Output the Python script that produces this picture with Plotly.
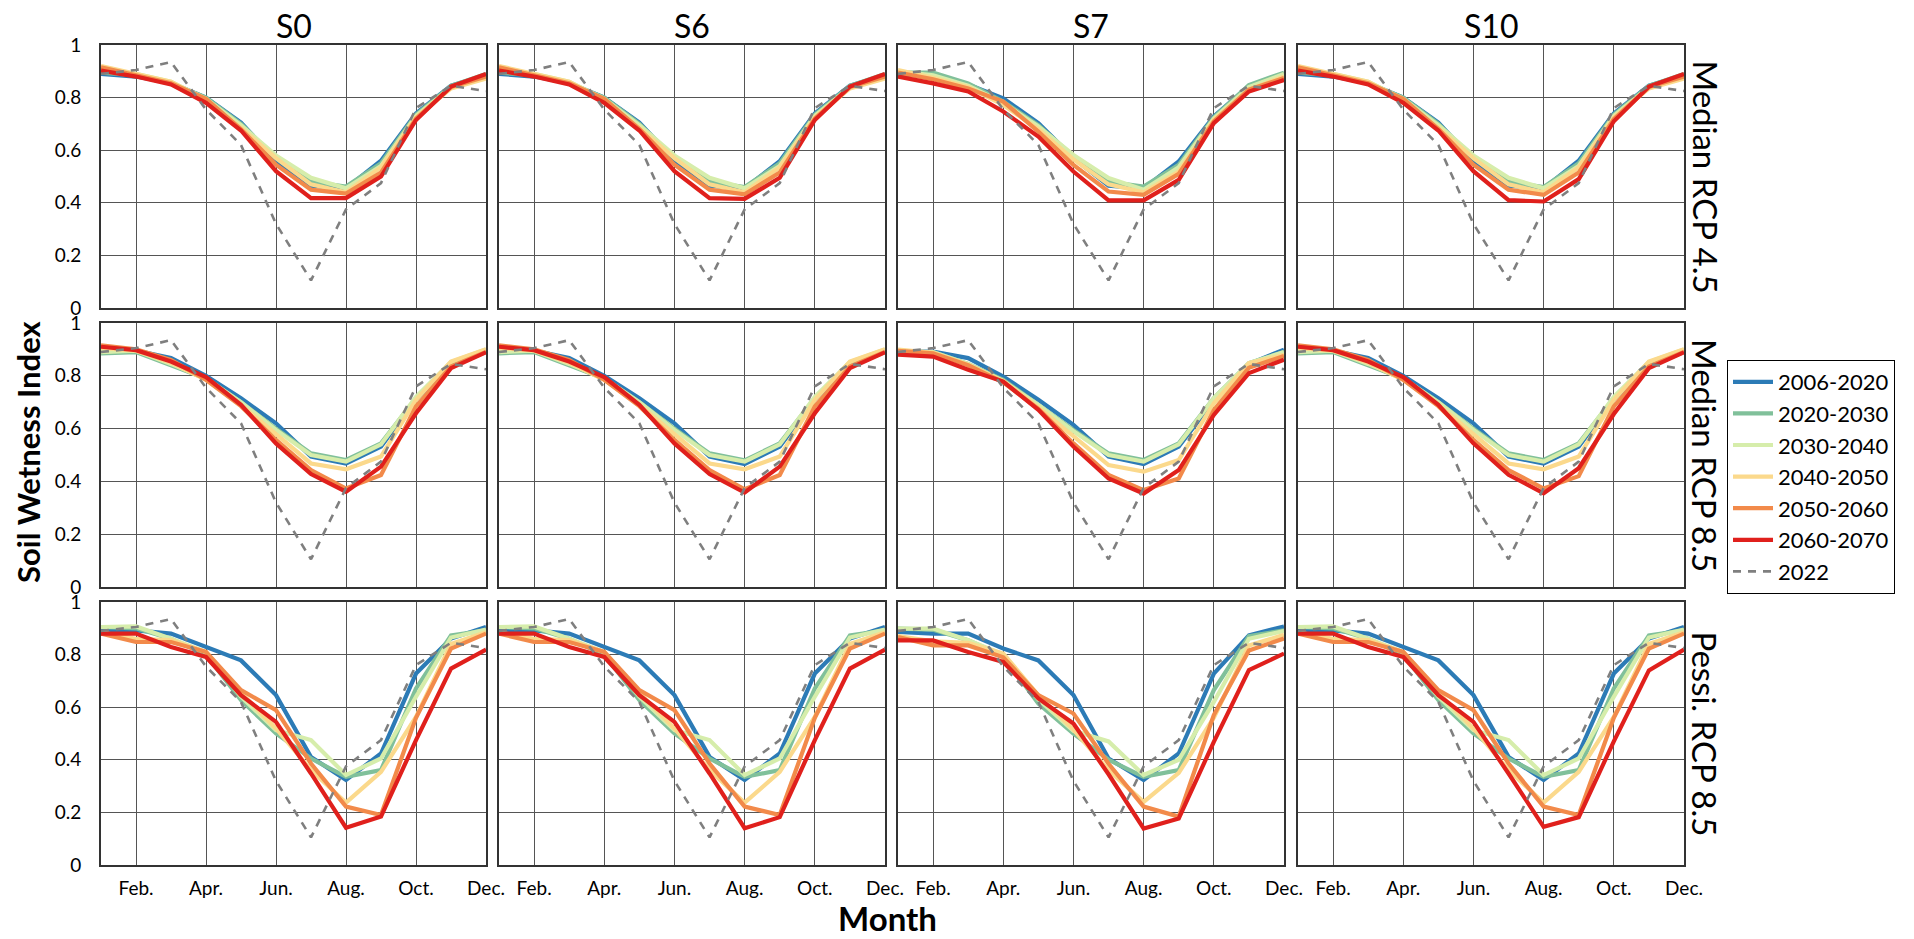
import plotly.graph_objects as go

# ---------------- data ----------------
MONTHS = list(range(1, 13))
MONTH_TICKS = [2, 4, 6, 8, 10, 12]
MONTH_LABELS = ["Feb.", "Apr.", "Jun.", "Aug.", "Oct.", "Dec."]
Y_TICKS = [0, 0.2, 0.4, 0.6, 0.8, 1]
Y_LABELS = ["0", "0.2", "0.4", "0.6", "0.8", "1"]
SITES = ["S0", "S6", "S7", "S10"]
SCENARIOS = ["Median RCP 4.5", "Median RCP 8.5", "Pessi. RCP 8.5"]
PERIODS = ["2006-2020", "2020-2030", "2030-2040", "2040-2050", "2050-2060", "2060-2070"]
COLORS = ["#2c7bb6", "#80c09a", "#d6edab", "#fbd98c", "#f28a4a", "#e0201c"]

OBS_2022 = [0.89, 0.905, 0.935, 0.755, 0.62, 0.32, 0.105, 0.375, 0.475, 0.76, 0.845, 0.825]

# each panel: one list per period (2006-2020 ... 2060-2070), Jan..Dec
S0_MED45 = [
    [0.890, 0.880, 0.855, 0.800, 0.705, 0.560, 0.465, 0.455, 0.560, 0.740, 0.845, 0.885],
    [0.895, 0.885, 0.855, 0.800, 0.700, 0.570, 0.480, 0.462, 0.550, 0.735, 0.845, 0.890],
    [0.905, 0.890, 0.860, 0.795, 0.695, 0.580, 0.495, 0.455, 0.540, 0.730, 0.840, 0.880],
    [0.920, 0.890, 0.860, 0.790, 0.685, 0.570, 0.470, 0.440, 0.535, 0.725, 0.835, 0.872],
    [0.915, 0.885, 0.855, 0.795, 0.680, 0.545, 0.450, 0.435, 0.515, 0.720, 0.840, 0.880],
    [0.903, 0.880, 0.850, 0.780, 0.675, 0.520, 0.418, 0.418, 0.500, 0.715, 0.842, 0.890],
]
S0_MED85 = [
    [0.895, 0.895, 0.867, 0.800, 0.715, 0.620, 0.494, 0.468, 0.532, 0.710, 0.845, 0.895],
    [0.885, 0.890, 0.840, 0.790, 0.700, 0.600, 0.506, 0.481, 0.544, 0.715, 0.850, 0.895],
    [0.890, 0.895, 0.845, 0.790, 0.700, 0.595, 0.500, 0.475, 0.540, 0.720, 0.852, 0.900],
    [0.905, 0.895, 0.850, 0.785, 0.690, 0.580, 0.468, 0.446, 0.494, 0.709, 0.854, 0.901],
    [0.915, 0.900, 0.860, 0.785, 0.685, 0.557, 0.443, 0.373, 0.424, 0.684, 0.835, 0.890],
    [0.910, 0.897, 0.854, 0.795, 0.690, 0.544, 0.428, 0.361, 0.456, 0.658, 0.829, 0.889],
]
S0_PES85 = [
    [0.892, 0.892, 0.880, 0.829, 0.778, 0.646, 0.411, 0.323, 0.424, 0.728, 0.861, 0.905],
    [0.905, 0.900, 0.860, 0.800, 0.627, 0.500, 0.405, 0.335, 0.361, 0.671, 0.873, 0.892],
    [0.905, 0.907, 0.860, 0.810, 0.640, 0.513, 0.475, 0.342, 0.405, 0.640, 0.865, 0.895],
    [0.885, 0.860, 0.855, 0.810, 0.655, 0.519, 0.361, 0.237, 0.354, 0.563, 0.840, 0.885],
    [0.880, 0.848, 0.848, 0.810, 0.665, 0.589, 0.386, 0.222, 0.190, 0.560, 0.823, 0.880],
    [0.880, 0.880, 0.829, 0.791, 0.646, 0.544, 0.348, 0.142, 0.184, 0.475, 0.747, 0.819],
]

S6_MED45 = [
    [0.890, 0.880, 0.855, 0.800, 0.705, 0.562, 0.465, 0.455, 0.558, 0.740, 0.845, 0.885],
    [0.895, 0.885, 0.855, 0.800, 0.700, 0.570, 0.480, 0.460, 0.550, 0.735, 0.845, 0.890],
    [0.905, 0.890, 0.860, 0.795, 0.695, 0.580, 0.495, 0.455, 0.540, 0.730, 0.840, 0.880],
    [0.920, 0.890, 0.860, 0.790, 0.685, 0.570, 0.470, 0.440, 0.535, 0.725, 0.835, 0.872],
    [0.915, 0.885, 0.855, 0.795, 0.680, 0.545, 0.450, 0.432, 0.515, 0.720, 0.840, 0.880],
    [0.903, 0.880, 0.850, 0.780, 0.675, 0.520, 0.418, 0.415, 0.495, 0.715, 0.842, 0.890],
]
S6_MED85 = [
    [0.895, 0.895, 0.867, 0.800, 0.715, 0.620, 0.494, 0.466, 0.532, 0.710, 0.845, 0.895],
    [0.885, 0.890, 0.840, 0.790, 0.700, 0.600, 0.506, 0.480, 0.544, 0.715, 0.850, 0.895],
    [0.890, 0.895, 0.845, 0.790, 0.700, 0.595, 0.500, 0.475, 0.540, 0.720, 0.852, 0.900],
    [0.905, 0.895, 0.850, 0.785, 0.690, 0.580, 0.468, 0.446, 0.494, 0.709, 0.854, 0.901],
    [0.915, 0.900, 0.860, 0.785, 0.685, 0.557, 0.443, 0.370, 0.424, 0.684, 0.835, 0.890],
    [0.910, 0.897, 0.854, 0.795, 0.690, 0.544, 0.428, 0.358, 0.456, 0.658, 0.829, 0.889],
]
S6_PES85 = [
    [0.892, 0.892, 0.880, 0.829, 0.778, 0.646, 0.411, 0.323, 0.424, 0.728, 0.861, 0.905],
    [0.905, 0.900, 0.860, 0.800, 0.627, 0.500, 0.405, 0.335, 0.361, 0.671, 0.873, 0.892],
    [0.905, 0.907, 0.860, 0.810, 0.640, 0.513, 0.475, 0.342, 0.405, 0.640, 0.865, 0.895],
    [0.885, 0.860, 0.855, 0.810, 0.655, 0.519, 0.361, 0.237, 0.354, 0.563, 0.840, 0.885],
    [0.880, 0.848, 0.848, 0.810, 0.665, 0.589, 0.386, 0.222, 0.190, 0.560, 0.823, 0.880],
    [0.880, 0.880, 0.829, 0.791, 0.646, 0.544, 0.348, 0.140, 0.182, 0.475, 0.747, 0.819],
]

S7_MED45 = [
    [0.890, 0.880, 0.850, 0.797, 0.703, 0.570, 0.465, 0.455, 0.557, 0.728, 0.845, 0.885],
    [0.895, 0.895, 0.854, 0.785, 0.695, 0.575, 0.480, 0.462, 0.545, 0.725, 0.848, 0.895],
    [0.900, 0.885, 0.845, 0.780, 0.690, 0.582, 0.494, 0.450, 0.535, 0.720, 0.840, 0.890],
    [0.905, 0.875, 0.840, 0.772, 0.680, 0.565, 0.470, 0.440, 0.519, 0.715, 0.830, 0.880],
    [0.895, 0.870, 0.835, 0.785, 0.671, 0.544, 0.443, 0.430, 0.510, 0.710, 0.830, 0.875],
    [0.880, 0.854, 0.823, 0.747, 0.652, 0.519, 0.409, 0.409, 0.487, 0.703, 0.823, 0.867],
]
S7_MED85 = [
    [0.892, 0.892, 0.867, 0.797, 0.709, 0.614, 0.494, 0.466, 0.532, 0.705, 0.845, 0.899],
    [0.890, 0.890, 0.845, 0.785, 0.690, 0.595, 0.506, 0.481, 0.544, 0.715, 0.848, 0.890],
    [0.893, 0.890, 0.845, 0.780, 0.690, 0.590, 0.500, 0.475, 0.540, 0.715, 0.848, 0.890],
    [0.899, 0.887, 0.842, 0.780, 0.680, 0.570, 0.462, 0.437, 0.481, 0.696, 0.848, 0.880],
    [0.895, 0.885, 0.840, 0.775, 0.675, 0.544, 0.425, 0.367, 0.411, 0.670, 0.830, 0.875],
    [0.880, 0.873, 0.823, 0.778, 0.671, 0.532, 0.411, 0.354, 0.443, 0.652, 0.810, 0.861],
]
S7_PES85 = [
    [0.886, 0.880, 0.880, 0.823, 0.778, 0.646, 0.405, 0.323, 0.424, 0.728, 0.873, 0.907],
    [0.899, 0.895, 0.855, 0.795, 0.614, 0.500, 0.400, 0.335, 0.361, 0.665, 0.870, 0.892],
    [0.899, 0.899, 0.855, 0.800, 0.630, 0.510, 0.470, 0.342, 0.400, 0.620, 0.860, 0.890],
    [0.870, 0.850, 0.845, 0.804, 0.645, 0.515, 0.360, 0.240, 0.350, 0.560, 0.835, 0.875],
    [0.867, 0.835, 0.835, 0.790, 0.646, 0.576, 0.385, 0.222, 0.184, 0.570, 0.816, 0.861],
    [0.854, 0.854, 0.810, 0.772, 0.633, 0.538, 0.345, 0.139, 0.177, 0.468, 0.741, 0.804],
]

S10_MED45 = [
    [0.890, 0.880, 0.855, 0.800, 0.705, 0.560, 0.465, 0.455, 0.560, 0.740, 0.845, 0.885],
    [0.895, 0.885, 0.855, 0.800, 0.700, 0.570, 0.480, 0.460, 0.550, 0.735, 0.845, 0.890],
    [0.905, 0.890, 0.860, 0.795, 0.695, 0.580, 0.495, 0.455, 0.540, 0.730, 0.840, 0.880],
    [0.920, 0.890, 0.860, 0.790, 0.685, 0.570, 0.470, 0.440, 0.535, 0.725, 0.835, 0.872],
    [0.915, 0.885, 0.855, 0.795, 0.680, 0.545, 0.450, 0.430, 0.515, 0.718, 0.840, 0.880],
    [0.903, 0.880, 0.850, 0.780, 0.675, 0.520, 0.410, 0.405, 0.490, 0.710, 0.842, 0.890],
]
S10_MED85 = [
    [0.895, 0.895, 0.867, 0.800, 0.715, 0.620, 0.494, 0.468, 0.532, 0.710, 0.845, 0.895],
    [0.885, 0.890, 0.840, 0.790, 0.700, 0.600, 0.506, 0.481, 0.544, 0.715, 0.850, 0.895],
    [0.890, 0.895, 0.845, 0.790, 0.700, 0.595, 0.500, 0.475, 0.540, 0.720, 0.852, 0.900],
    [0.905, 0.895, 0.850, 0.785, 0.690, 0.580, 0.468, 0.446, 0.494, 0.709, 0.854, 0.901],
    [0.915, 0.900, 0.860, 0.785, 0.685, 0.557, 0.443, 0.373, 0.420, 0.684, 0.835, 0.890],
    [0.910, 0.897, 0.854, 0.795, 0.690, 0.544, 0.425, 0.355, 0.450, 0.655, 0.829, 0.889],
]
S10_PES85 = [
    [0.892, 0.892, 0.880, 0.829, 0.778, 0.646, 0.411, 0.323, 0.424, 0.728, 0.861, 0.905],
    [0.905, 0.900, 0.860, 0.800, 0.627, 0.500, 0.405, 0.335, 0.361, 0.671, 0.873, 0.892],
    [0.905, 0.907, 0.860, 0.810, 0.640, 0.513, 0.475, 0.342, 0.405, 0.640, 0.865, 0.895],
    [0.885, 0.860, 0.855, 0.810, 0.655, 0.519, 0.361, 0.237, 0.354, 0.563, 0.840, 0.885],
    [0.880, 0.848, 0.848, 0.810, 0.665, 0.589, 0.386, 0.222, 0.190, 0.560, 0.823, 0.880],
    [0.880, 0.880, 0.829, 0.791, 0.646, 0.544, 0.348, 0.145, 0.182, 0.470, 0.740, 0.819],
]

PANELS = [
    [S0_MED45, S6_MED45, S7_MED45, S10_MED45],
    [S0_MED85, S6_MED85, S7_MED85, S10_MED85],
    [S0_PES85, S6_PES85, S7_PES85, S10_PES85],
]

# ---------------- layout geometry (pixels) ----------------
W, H = 1914, 939
COL_PX = [(101, 486), (499, 885), (898, 1284), (1298, 1684)]
ROW_PX = [(45, 308), (323, 587), (602, 865)]
FONT = "Lato, 'Open Sans', sans-serif"

fig = go.Figure()
layout = dict(
    width=W, height=H,
    margin=dict(l=0, r=0, t=0, b=0, autoexpand=False),
    paper_bgcolor="white", plot_bgcolor="white",
    font=dict(family=FONT, color="black", size=20),
    showlegend=True,
    legend=dict(
        x=1727 / W, y=1 - 360 / H, xanchor="left", yanchor="top",
        bordercolor="black", borderwidth=1, bgcolor="white",
        font=dict(size=22, family=FONT, color="black"),
        tracegroupgap=0, itemwidth=40,
    ),
)

for r in range(3):
    for c in range(4):
        k = r * 4 + c + 1
        xname = "x" if k == 1 else f"x{k}"
        yname = "y" if k == 1 else f"y{k}"
        x0, x1 = COL_PX[c]
        t0, b0 = ROW_PX[r]
        layout["xaxis" if k == 1 else f"xaxis{k}"] = dict(
            domain=[x0 / W, x1 / W], range=[1, 12], anchor=yname,
            tickvals=MONTH_TICKS, ticktext=MONTH_LABELS,
            showticklabels=(r == 2), ticks="outside" if r == 2 else "",
            ticklen=5, tickcolor="rgba(0,0,0,0)",
            tickfont=dict(size=19, family=FONT, color="black"),
            showgrid=True, gridcolor="#555555", gridwidth=1,
            showline=True, linecolor="#333333", linewidth=2, mirror=True,
            zeroline=False, fixedrange=True,
        )
        layout["yaxis" if k == 1 else f"yaxis{k}"] = dict(
            domain=[1 - b0 / H, 1 - t0 / H], range=[0, 1], anchor=xname,
            tickvals=Y_TICKS, ticktext=Y_LABELS,
            showticklabels=(c == 0), ticks="outside" if c == 0 else "",
            ticklen=14, tickcolor="rgba(0,0,0,0)",
            tickfont=dict(size=19, family=FONT, color="black"),
            showgrid=True, gridcolor="#555555", gridwidth=1,
            showline=True, linecolor="#333333", linewidth=2, mirror=True,
            zeroline=False, fixedrange=True,
        )
        data = PANELS[r][c]
        for i, period in enumerate(PERIODS):
            fig.add_trace(go.Scatter(
                x=MONTHS, y=data[i], mode="lines", name=period,
                legendgroup=period, showlegend=(k == 1),
                line=dict(color=COLORS[i], width=4.2),
                xaxis=xname, yaxis=yname, hoverinfo="skip",
            ))
        fig.add_trace(go.Scatter(
            x=MONTHS, y=OBS_2022, mode="lines", name="2022",
            legendgroup="2022", showlegend=(k == 1),
            line=dict(color="#7f7f7f", width=2.6, dash="8px,7px"),
            xaxis=xname, yaxis=yname, hoverinfo="skip",
        ))

annotations = []
for c, site in enumerate(SITES):
    x0, x1 = COL_PX[c]
    annotations.append(dict(
        text=site, x=(x0 + x1) / 2 / W, y=1 - 26 / H, xref="paper", yref="paper",
        xanchor="center", yanchor="middle", showarrow=False,
        font=dict(size=32, family=FONT, color="black"),
    ))
for r, scen in enumerate(SCENARIOS):
    t0, b0 = ROW_PX[r]
    annotations.append(dict(
        text=scen, x=1705 / W, y=1 - (t0 + b0) / 2 / H, xref="paper", yref="paper",
        xanchor="center", yanchor="middle", showarrow=False, textangle=90,
        font=dict(size=33, family=FONT, color="black"),
    ))
annotations.append(dict(
    text="<b>Soil Wetness Index</b>", x=28 / W, y=1 - 452 / H, xref="paper", yref="paper",
    xanchor="center", yanchor="middle", showarrow=False, textangle=-90,
    font=dict(size=31, family=FONT, color="black"),
))
annotations.append(dict(
    text="<b>Month</b>", x=887 / W, y=1 - 918 / H, xref="paper", yref="paper",
    xanchor="center", yanchor="middle", showarrow=False,
    font=dict(size=33, family=FONT, color="black"),
))
layout["annotations"] = annotations

fig.update_layout(**layout)
fig.write_html(
    "out.html",
    config={"displayModeBar": False},
    post_script="document.body.style.margin='0';document.body.style.overflow='hidden';",
)
